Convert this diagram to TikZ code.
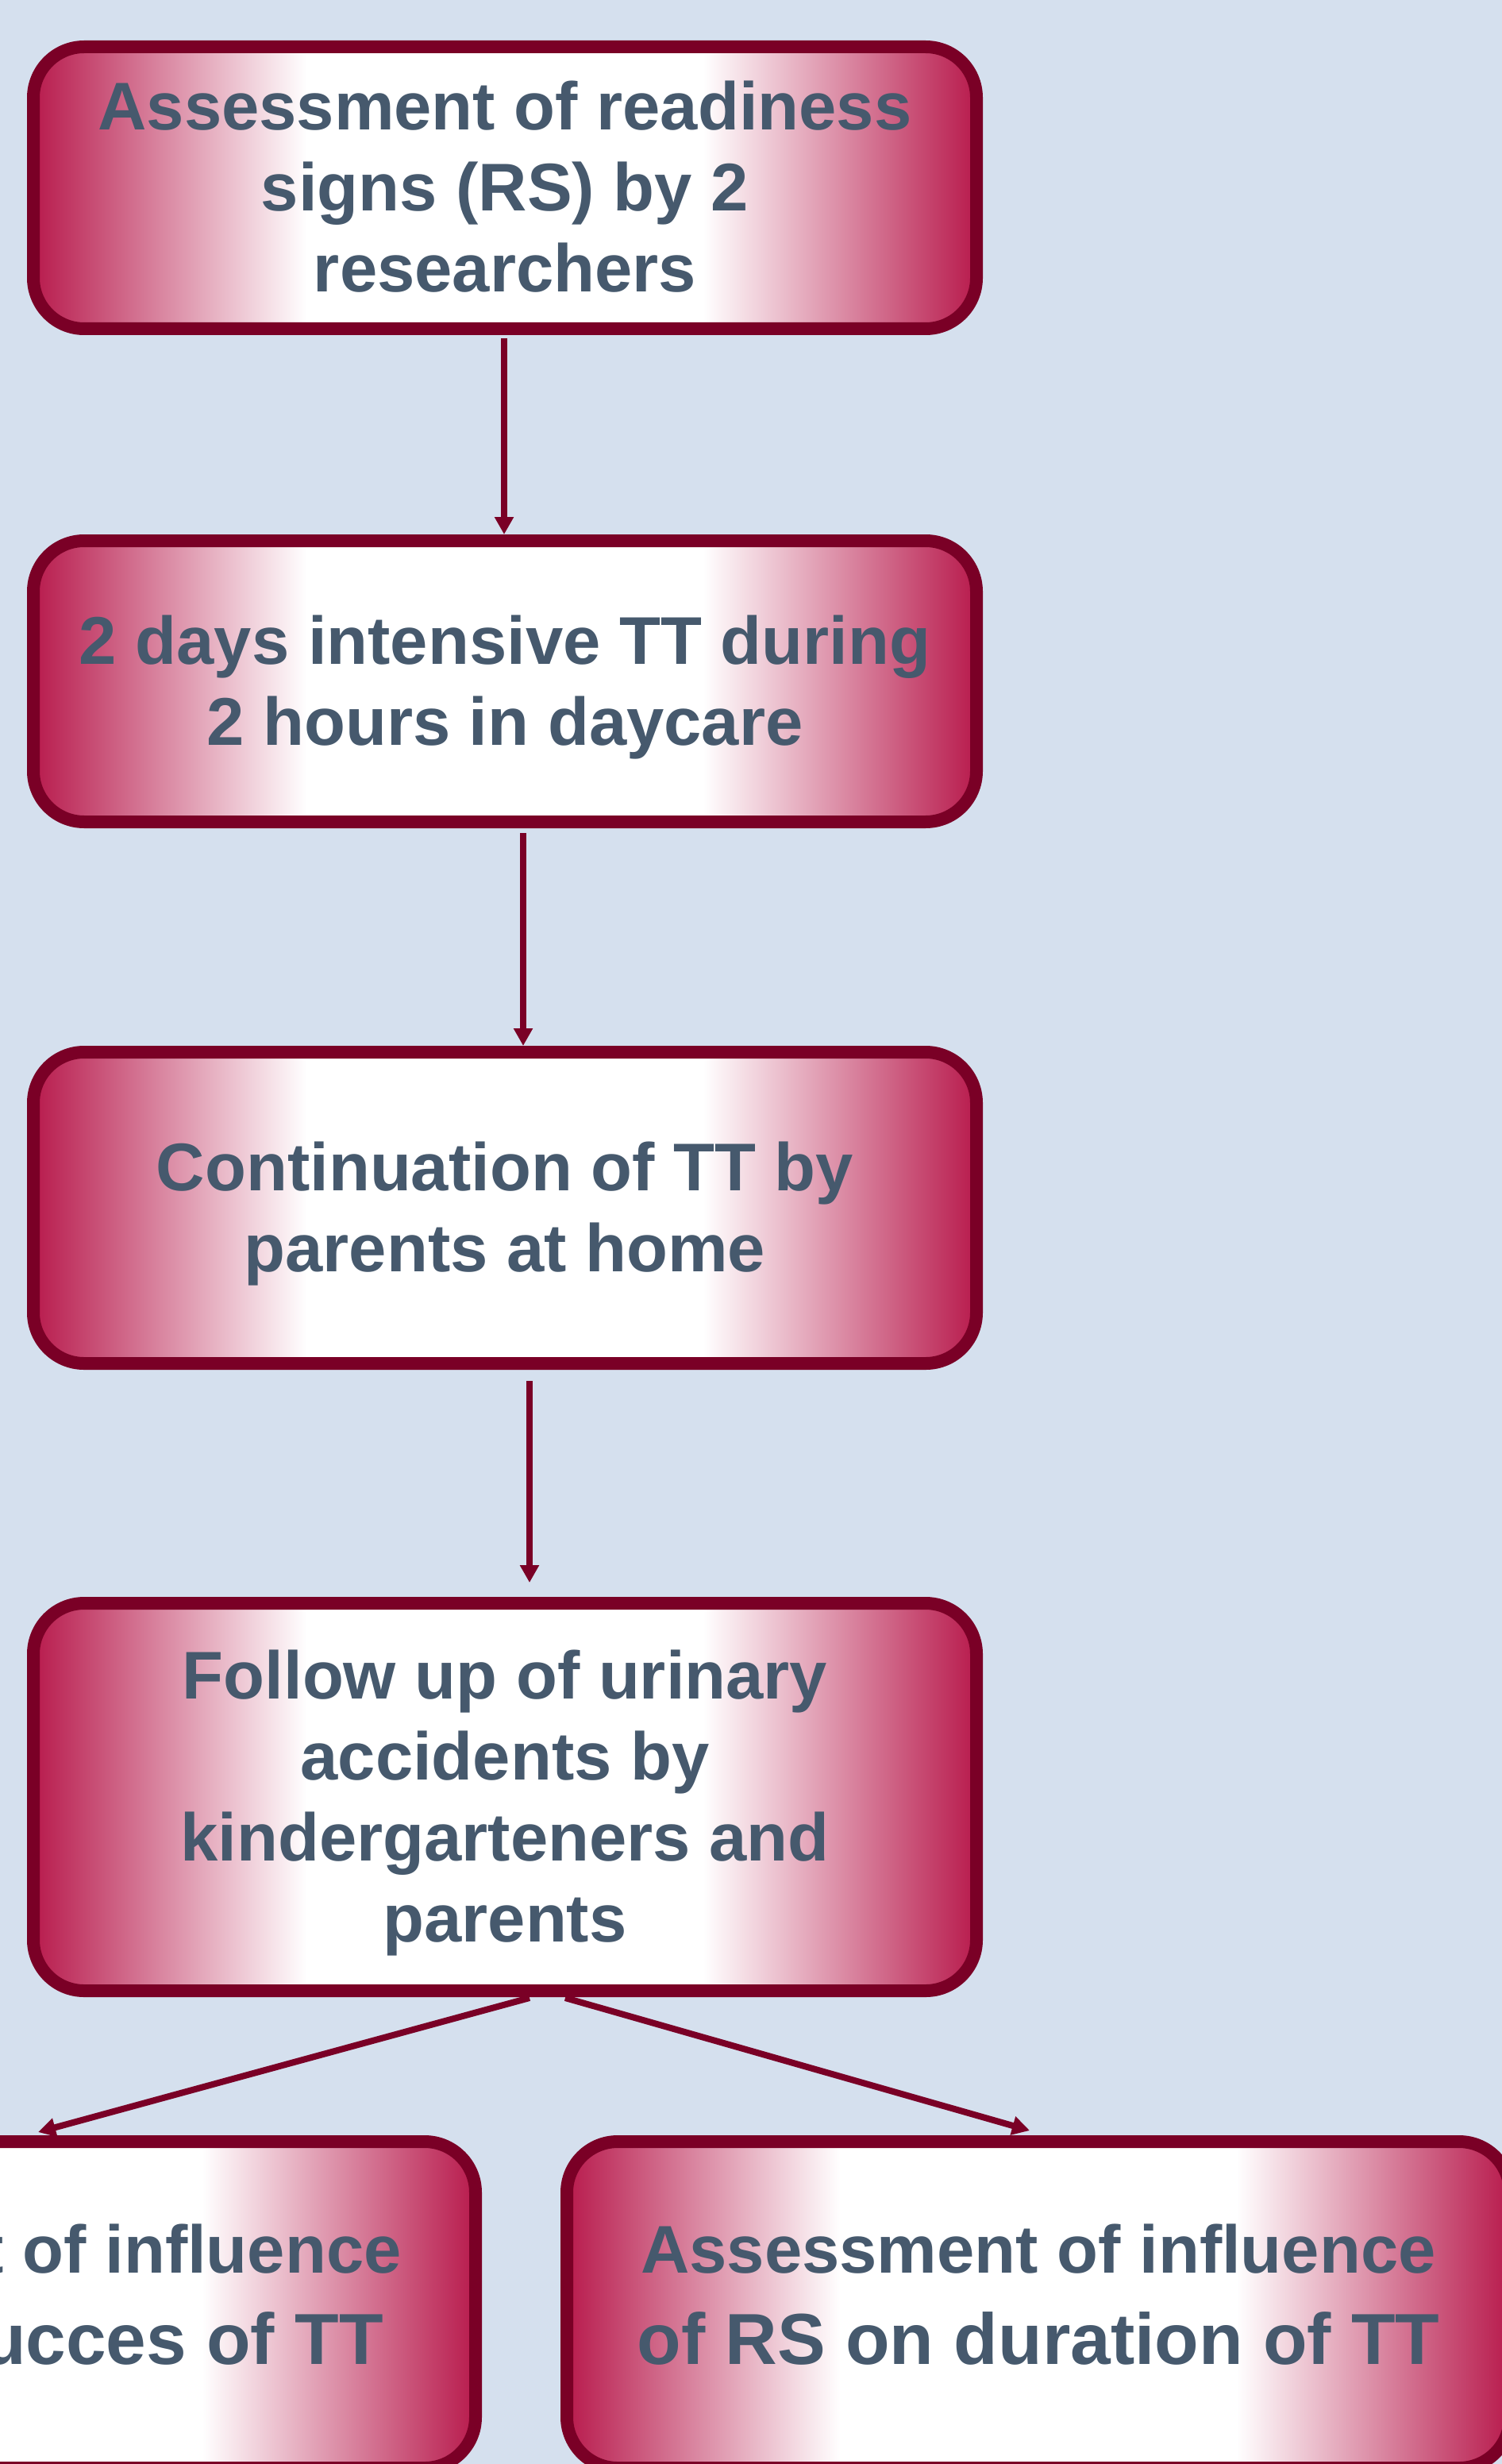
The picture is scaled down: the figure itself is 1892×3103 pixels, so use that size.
\documentclass[tikz,border=0pt]{standalone}
\usepackage{fontspec}
\setmainfont{Liberation Sans}
\usetikzlibrary{arrows.meta,calc,shadows}
\definecolor{bgc}{RGB}{213,224,238}
\definecolor{bord}{RGB}{122,0,38}
\definecolor{pk}{RGB}{184,27,77}
\definecolor{txt}{RGB}{70,89,109}
\newcommand\bigtextfont{\fontsize{22.75}{28.5}\selectfont}
\newcommand\topstrut{\rule{0pt}{0.905em}}
\newcommand\botstrut{\rule[-0.212em]{0pt}{0.212em}}
\newcommand\deepstrut{\rule[-10.5pt]{0pt}{10.5pt}}
\pgfdeclarehorizontalshading{boxshade}{100bp}{color(0bp)=(pk); color(25bp)=(pk); color(39.5bp)=(white); color(60.5bp)=(white); color(75bp)=(pk); color(100bp)=(pk)}
\tikzset{
  stepbox/.style={draw=bord, line width=4pt, rounded corners=16pt, shading=boxshade,
    minimum width=297pt, inner sep=0pt, outer sep=0pt, align=center, text=txt,
    font=\bfseries\fontsize{21.25}{25.5}\selectfont,
    drop shadow={opacity=0.22, shadow xshift=0pt, shadow yshift=-1.2pt}},
  lowbox/.style={stepbox, minimum height=102.75pt,
    font=\bfseries\fontsize{21.25}{28.5}\selectfont},
  arr/.style={draw=bord, line width=2pt, -{Triangle[width=5.75pt,length=5.5pt]}}
}
\begin{document}
\begin{tikzpicture}[x=0.25pt,y=-0.25pt]
\useasboundingbox (0,0) rectangle (1892,3103);
\fill[bgc] (0,0) rectangle (1892,3103);
\clip (0,0) rectangle (1892,3103);

\node[stepbox, minimum height=88.75pt] (b1) at (636,236.5)
  {\topstrut Assessment of readiness\\signs (RS) by 2\\researchers\botstrut};
\node[stepbox, minimum height=88.5pt] (b2) at (636,858)
  {\topstrut 2 days intensive TT during\\2 hours in daycare\botstrut};
\node[stepbox, minimum height=98pt] (b3) at (636,1521)
  {\topstrut Continuation of TT by\\parents at home\botstrut};
\node[stepbox, minimum height=122pt] (b4) at (636,2263)
  {\topstrut Follow up of urinary\\accidents by\\kindergarteners and\\parents\botstrut};
\node[lowbox] (b5) at (5,2902.5)
  {\topstrut Assessment of influence\\{\bigtextfont of RS on succes of TT\deepstrut}};
\node[lowbox] (b6) at (1308,2902.5)
  {\topstrut Assessment of influence\\{\bigtextfont of RS on duration of TT\deepstrut}};

\draw[arr] ($(b1.south)+(-1,12)$) -- ($(b2.north)+(-1,-8)$);
\draw[arr] ($(b2.south)+(23,14)$) -- ($(b3.north)+(23,-8)$);
\draw[arr] ($(b3.south)+(31,22)$) -- ($(b4.north)+(31,-26)$);
\draw[arr] ($(b4.south)+(31,9)$) -- ($(b5.north)+(43,-12)$);
\draw[arr] ($(b4.south)+(76,9)$) -- ($(b6.north)+(-11,-14)$);
\end{tikzpicture}
\end{document}
